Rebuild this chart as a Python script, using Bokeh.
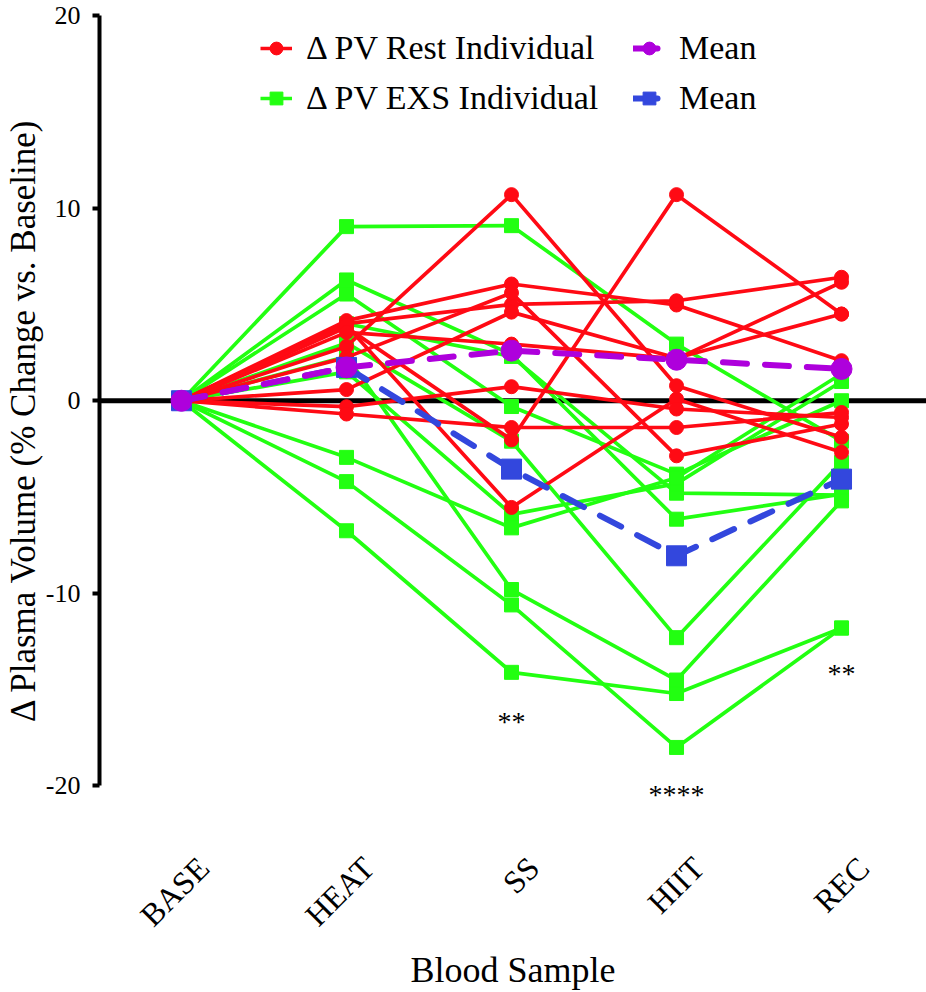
import numpy as np
from bokeh.plotting import figure
from bokeh.models import FixedTicker, Span, Legend, LegendItem, Label, CustomJSTickFormatter
from bokeh.embed import file_html
from bokeh.resources import INLINE

# ---------------- data ----------------
samples = ["BASE", "HEAT", "SS", "HIIT", "REC"]

# Δ PV Rest, individual participants (% change vs baseline)
rest_individual = [
    [0, 4.16, 6.06, 4.97, 2.08],
    [0, 4.00, 5.00, 5.19, 6.41],
    [0, 3.81, -2.03, 10.70, 4.50],
    [0, 3.90, -5.54, 0.09, -2.68],
    [0, 3.55, 2.94, 2.17, 6.15],
    [0, 2.82, 10.70, 0.78, -1.90],
    [0, 2.25, 5.60, -2.86, -1.21],
    [0, 0.58, 4.60, 2.22, 4.50],
    [0, -0.31, 0.73, -0.43, -0.87],
    [0, -0.69, -1.39, -1.39, -0.61],
]

# Δ PV EXS, individual participants
exs_individual = [
    [0, 9.04, 9.09, 2.94, -2.10],
    [0, 6.27, 2.40, -6.15, -4.85],
    [0, 5.54, -0.30, -3.81, 0.00],
    [0, 4.00, 2.30, -4.80, -4.90],
    [0, 2.30, -9.80, -14.50, -5.20],
    [0, 1.50, -5.90, -4.30, 1.00],
    [0, 3.00, -2.10, -12.30, -3.20],
    [0, -2.94, -6.60, -4.00, 1.40],
    [0, -4.20, -10.60, -18.00, -11.80],
    [0, -6.75, -14.10, -15.20, -11.80],
]

rest_mean = [0, 1.73, 2.60, 2.13, 1.65]
exs_mean = [0, 1.73, -3.55, -8.05, -4.07]

y_ticks = [-20, -10, 0, 10, 20]
y_tick_labels = ["-20", "-10", "0", "10", "20"]

sig_x = [2, 3, 4]
sig_y = [-16.65, -20.45, -14.15]
sig_text = ["**", "****", "**"]

# ---------------- style ----------------
RED = "#FF0A14"
GREEN = "#22FF11"
PURPLE = "#AE00DC"
BLUE = "#3347DD"
FONT = "Liberation Serif"

xs = list(range(len(samples)))

p = figure(width=926, height=992,
           x_range=(-0.497, 4.515), y_range=(-22, 20),
           output_backend="svg", toolbar_location=None,
           min_border_left=99, min_border_right=0,
           min_border_top=15, min_border_bottom=168)
p.grid.visible = False
p.outline_line_color = None

zero = Span(location=0, dimension="width", line_color="black", line_width=5, level="underlay")
p.add_layout(zero)

g_line = g_mark = None
for vals in exs_individual:
    l = p.line(xs, vals, line_color=GREEN, line_width=3.7)
    m = p.scatter(xs, vals, marker="square", size=14, fill_color=GREEN, line_color=GREEN)
    if g_line is None:
        g_line, g_mark = l, m

r_line = r_mark = None
for vals in rest_individual:
    l = p.line(xs, vals, line_color=RED, line_width=3.7)
    m = p.scatter(xs, vals, marker="circle", size=14, fill_color=RED, line_color=RED)
    if r_line is None:
        r_line, r_mark = l, m

b_line = p.line(xs, exs_mean, line_color=BLUE, line_width=6, line_dash="24 18", line_cap="round")
b_mark = p.scatter(xs, exs_mean, marker="square", size=20, fill_color=BLUE, line_color=BLUE)
pu_line = p.line(xs, rest_mean, line_color=PURPLE, line_width=6, line_dash="24 18", line_cap="round")
pu_mark = p.scatter(xs, rest_mean, marker="circle", size=21, fill_color=PURPLE, line_color=PURPLE)

for sx, sy, st in zip(sig_x, sig_y, sig_text):
    p.add_layout(Label(x=sx, y=sy, text=st, text_align="center", text_baseline="middle",
                       text_font=FONT, text_font_size="28px", text_color="black"))

# y axis
ya = p.yaxis[0]
ya.ticker = FixedTicker(ticks=y_ticks)
ya.major_label_overrides = dict(zip(y_ticks, y_tick_labels))
ya.bounds = (-20, 20)
ya.axis_line_width = 4
ya.axis_line_color = "black"
ya.major_tick_line_width = 4
ya.major_tick_out = 7
ya.major_tick_in = 0
ya.minor_tick_line_color = None
ya.major_label_text_font = FONT
ya.major_label_text_font_size = "26px"
ya.major_label_text_color = "black"
ya.major_label_standoff = 12
ya.axis_label = "Δ Plasma Volume (% Change vs. Baseline)"
ya.axis_label_text_font = FONT
ya.axis_label_text_font_size = "35px"
ya.axis_label_text_font_style = "normal"
ya.axis_label_text_color = "black"
ya.axis_label_standoff = 0

# x axis
xa = p.xaxis[0]
xa.ticker = FixedTicker(ticks=[i + 0.133 for i in xs])
xa.formatter = CustomJSTickFormatter(args=dict(labels=samples),
                                     code="return labels[Math.round(tick)];")
xa.axis_line_color = None
xa.major_tick_line_color = None
xa.minor_tick_line_color = None
xa.major_tick_out = 0
xa.major_tick_in = 0
xa.major_label_orientation = np.pi / 4
xa.major_label_text_font = FONT
xa.major_label_text_font_size = "32px"
xa.major_label_text_color = "black"
xa.major_label_standoff = 38
xa.axis_label = "Blood Sample"
xa.axis_label_text_font = FONT
xa.axis_label_text_font_size = "36px"
xa.axis_label_text_font_style = "normal"
xa.axis_label_text_color = "black"
xa.axis_label_standoff = 1

def make_legend(items, loc):
    lg = Legend(items=items, location=loc, orientation="vertical",
                label_text_font=FONT, label_text_font_size="34px", label_text_color="black",
                glyph_width=32, glyph_height=38, label_height=38, label_standoff=14,
                spacing=12, padding=0, margin=0,
                border_line_color=None, background_fill_alpha=0)
    return lg

leg1 = make_legend([
    LegendItem(label="Δ PV Rest Individual", renderers=[r_line, r_mark]),
    LegendItem(label="Δ PV EXS Individual", renderers=[g_line, g_mark]),
], (161, 707))
leg2 = make_legend([
    LegendItem(label="Mean", renderers=[pu_line, pu_mark]),
    LegendItem(label="Mean", renderers=[b_line, b_mark]),
], (534, 707))
p.add_layout(leg1)
p.add_layout(leg2)

open("out.html", "w").write(file_html(p, INLINE))
